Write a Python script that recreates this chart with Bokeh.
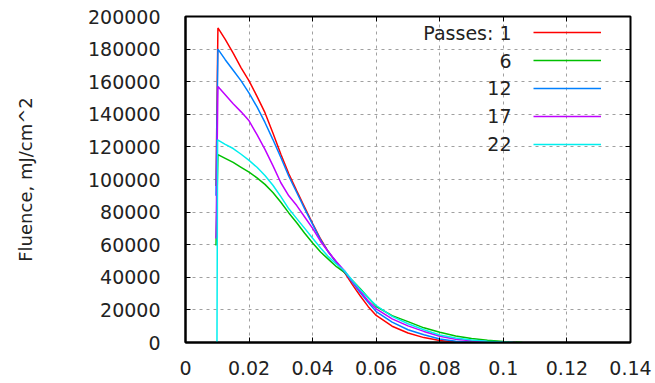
from bokeh.plotting import figure
from bokeh.models import (FixedTicker, LinearAxis, Legend, LegendItem, Label,
                          CustomJSTickFormatter, Range1d)
from bokeh.core.properties import value
from bokeh.embed import file_html
from bokeh.resources import INLINE

# ---------------- data ----------------
legend_texts = ["Passes: 1", "6", "12", "17", "22"]
colors = ["#ff0000", "#00c000", "#0080ff", "#c000ff", "#00eeee"]

x_p1 = [0.0096, 0.0102, 0.0125, 0.015, 0.0175, 0.020, 0.0225, 0.025, 0.0275,
        0.030, 0.0325, 0.035, 0.0375, 0.040, 0.0425, 0.045, 0.0475, 0.050,
        0.0525, 0.055, 0.0575, 0.060, 0.065, 0.070, 0.075, 0.080, 0.085, 0.090]
y_p1 = [96000, 193000, 186000, 177500, 168500, 160500, 151000, 141000, 128500,
        115500, 103500, 93000, 83000, 73000, 63500, 55500, 49000, 43000,
        35500, 28500, 22000, 16600, 10000, 5800, 3000, 1200, 300, 0]

x_p6 = [0.0096, 0.0102, 0.0125, 0.015, 0.0175, 0.020, 0.0225, 0.025, 0.0275,
        0.030, 0.0325, 0.035, 0.0375, 0.040, 0.0425, 0.045, 0.0475, 0.050,
        0.0525, 0.055, 0.0575, 0.060, 0.065, 0.070, 0.075, 0.080, 0.085,
        0.090, 0.095, 0.100, 0.106]
y_p6 = [59500, 115300, 113000, 110500, 107500, 104500, 101000, 97000, 92000,
        86000, 79500, 73500, 67000, 61000, 55500, 51000, 46500, 43000,
        38000, 33000, 27500, 22100, 16500, 12800, 9000, 6300, 4000,
        2500, 1400, 600, 0]

x_p12 = [0.0096, 0.0102, 0.0125, 0.015, 0.0175, 0.020, 0.0225, 0.025, 0.0275,
         0.030, 0.0325, 0.035, 0.0375, 0.040, 0.0425, 0.045, 0.0475, 0.050,
         0.0525, 0.055, 0.0575, 0.060, 0.065, 0.070, 0.075, 0.080, 0.085,
         0.090, 0.095]
y_p12 = [90000, 180000, 173500, 167000, 160500, 153000, 144500, 135000, 124500,
         113500, 102000, 92000, 82000, 72500, 63000, 55500, 49000, 43500,
         37000, 30500, 24500, 19000, 12500, 7800, 4700, 2200, 700,
         100, 0]

x_p17 = [0.0096, 0.0102, 0.0125, 0.015, 0.0175, 0.020, 0.0225, 0.025, 0.0275,
         0.030, 0.0325, 0.035, 0.0375, 0.040, 0.0425, 0.045, 0.0475, 0.050,
         0.0525, 0.055, 0.0575, 0.060, 0.065, 0.070, 0.075, 0.080, 0.085,
         0.090, 0.095, 0.100, 0.104]
y_p17 = [63800, 157000, 152000, 146500, 141500, 136000, 127500, 118500, 108500,
         98000, 90000, 84000, 77000, 70000, 62000, 55500, 49500, 44000,
         37500, 31500, 25500, 20700, 14500, 10200, 6800, 3800, 2000,
         1000, 400, 150, 0]

x_p22 = [0.0099, 0.0101, 0.0125, 0.015, 0.0175, 0.020, 0.0225, 0.025, 0.0275,
         0.030, 0.0325, 0.035, 0.0375, 0.040, 0.0425, 0.045, 0.0475, 0.050,
         0.0525, 0.055, 0.0575, 0.060, 0.065, 0.070, 0.075, 0.080, 0.085,
         0.090, 0.095, 0.100, 0.103]
y_p22 = [0, 124300, 121500, 119000, 115500, 111700, 107500, 102500, 96500,
         89500, 82000, 76000, 70000, 64000, 58000, 52500, 48000, 44000,
         38000, 32500, 27500, 22700, 16000, 11500, 7800, 4600, 2800,
         1500, 700, 250, 0]

x_ticks = [0, 0.02, 0.04, 0.06, 0.08, 0.10, 0.12, 0.14]
x_tick_labels = ["0", "0.02", "0.04", "0.06", "0.08", "0.1", "0.12", "0.14"]
y_ticks = [0, 20000, 40000, 60000, 80000, 100000, 120000, 140000, 160000, 180000, 200000]
y_tick_labels = ["0", "20000", "40000", "60000", "80000", "100000", "120000",
                 "140000", "160000", "180000", "200000"]
y_label = "Fluence, mJ/cm^2"

series_x = [x_p1, x_p6, x_p12, x_p17, x_p22]
series_y = [y_p1, y_p6, y_p12, y_p17, y_p22]

# ---------------- figure ----------------
FONT = "DejaVu Sans"
TXT = "#222222"

p = figure(width=655, height=383, output_backend="svg", toolbar_location=None,
           x_range=Range1d(0, 0.14), y_range=Range1d(0, 200000),
           min_border_left=185, min_border_right=25, min_border_top=16,
           min_border_bottom=41)
p.background_fill_color = "white"
p.border_fill_color = "white"
p.outline_line_color = "black"
p.outline_line_width = 2

renderers = []
for xs, ys, c in zip(series_x, series_y, colors):
    r = p.line(xs, ys, line_color=c, line_width=1.5)
    renderers.append(r)

# axes
for ax in p.xaxis:
    ax.ticker = FixedTicker(ticks=x_ticks)
    ax.major_label_overrides = {t: l for t, l in zip(x_ticks, x_tick_labels)}
    ax.major_label_standoff = 18
for ax in p.yaxis:
    ax.ticker = FixedTicker(ticks=y_ticks)
    ax.major_label_overrides = {t: l for t, l in zip(y_ticks, y_tick_labels)}
    ax.major_label_standoff = 25
    ax.axis_label = y_label
    ax.axis_label_standoff = 49
    ax.axis_label_text_font = FONT
    ax.axis_label_text_font_size = "18px"
    ax.axis_label_text_font_style = "normal"
    ax.axis_label_text_color = TXT

for ax in list(p.xaxis) + list(p.yaxis):
    ax.major_label_text_font = FONT
    ax.major_label_text_font_size = "19px"
    ax.major_label_text_color = TXT
    ax.axis_line_color = "black"
    ax.axis_line_width = 2
    ax.major_tick_in = 5
    ax.major_tick_out = 0
    ax.major_tick_line_color = "black"
    ax.major_tick_line_width = 1
    ax.minor_tick_line_color = None

# mirror ticks (right / top)
blank = CustomJSTickFormatter(code="return ''")
ax_r = LinearAxis(ticker=FixedTicker(ticks=y_ticks), formatter=blank)
ax_t = LinearAxis(ticker=FixedTicker(ticks=x_ticks), formatter=blank)
for ax in (ax_r, ax_t):
    ax.major_label_text_font_size = "0px"
    ax.major_label_standoff = 0
    ax.axis_line_color = None
    ax.major_tick_in = 5
    ax.major_tick_out = 0
    ax.major_tick_line_color = "black"
    ax.minor_tick_line_color = None
p.add_layout(ax_r, "right")
p.add_layout(ax_t, "above")

# grid
for g in (p.xgrid, p.ygrid):
    g.grid_line_color = "#a0a0a0"
    g.grid_line_dash = "3 4"
    g.grid_line_width = 1
p.xgrid.ticker = FixedTicker(ticks=x_ticks[1:-1])
p.ygrid.ticker = FixedTicker(ticks=y_ticks[1:-1])

# legend: text on the left, sample line on the right
row_step = 27.8
top_row = 309.7  # screen offset from frame bottom
legend = Legend(
    items=[LegendItem(label=value(""), renderers=[r]) for r in renderers],
    location=(348, top_row + 10 - (5 * 20 + 4 * 7.8)),
    glyph_width=68, glyph_height=20, label_height=20, label_width=0,
    label_standoff=0, spacing=8, padding=0, margin=0,
    border_line_color=None, background_fill_alpha=0,
    label_text_font_size="1px")
p.add_layout(legend)

for i, t in enumerate(legend_texts):
    p.add_layout(Label(x=326, y=top_row - i * row_step, x_units="screen",
                       y_units="screen", text=t, text_align="right",
                       text_baseline="middle", text_font=FONT,
                       text_font_size="19px", text_color=TXT))

open("out.html", "w").write(file_html(p, INLINE))
